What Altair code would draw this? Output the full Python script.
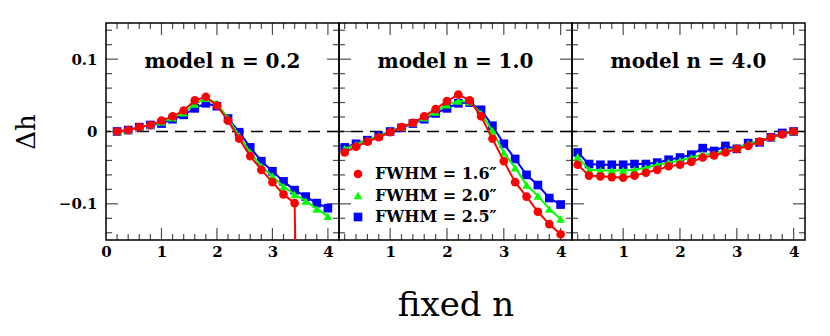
import altair as alt
import pandas as pd

# ---------------- data ----------------
n_grid = [0.2, 0.4, 0.6, 0.8, 1.0, 1.2, 1.4, 1.6, 1.8, 2.0,
          2.2, 2.4, 2.6, 2.8, 3.0, 3.2, 3.4, 3.6, 3.8, 4.0]

models = ["model n = 0.2", "model n = 1.0", "model n = 4.0"]
series = ["FWHM = 1.6\u2033", "FWHM = 2.0\u2033", "FWHM = 2.5\u2033"]
colors = ["#ff0000", "#00ff00", "#0000ff"]
shapes = ["circle", "triangle-up", "square"]

# model n = 0.2 (red curve dives off the bottom after n = 3.4)
red_02 = [0.000, 0.002, 0.006, 0.009, 0.015, 0.021, 0.029, 0.043, 0.048, 0.036,
          0.015, -0.010, -0.034, -0.053, -0.070, -0.087, -0.099, -1.000]
green_02 = [0.000, 0.002, 0.006, 0.009, 0.013, 0.019, 0.026, 0.038, 0.046, 0.039,
            0.018, -0.006, -0.029, -0.048, -0.062, -0.076, -0.087, -0.096, -0.107, -0.117]
blue_02 = [0.000, 0.002, 0.006, 0.009, 0.011, 0.017, 0.023, 0.032, 0.039, 0.035,
           0.018, -0.001, -0.022, -0.041, -0.055, -0.069, -0.081, -0.090, -0.099, -0.106]

# model n = 1.0
red_10 = [-0.029, -0.021, -0.014, -0.008, -0.001, 0.006, 0.012, 0.021, 0.031, 0.042,
          0.051, 0.043, 0.021, -0.010, -0.041, -0.070, -0.090, -0.111, -0.128, -0.142]
green_10 = [-0.024, -0.018, -0.012, -0.006, 0.000, 0.006, 0.012, 0.019, 0.027, 0.037,
            0.042, 0.041, 0.025, 0.001, -0.029, -0.050, -0.074, -0.089, -0.107, -0.121]
blue_10 = [-0.022, -0.017, -0.012, -0.006, 0.000, 0.005, 0.011, 0.017, 0.025, 0.032,
           0.039, 0.040, 0.030, 0.008, -0.017, -0.038, -0.060, -0.074, -0.092, -0.101]

# model n = 4.0
red_40 = [-0.046, -0.061, -0.062, -0.063, -0.064, -0.061, -0.057, -0.053, -0.048, -0.046,
          -0.042, -0.036, -0.033, -0.029, -0.024, -0.020, -0.014, -0.008, -0.004, 0.000]
green_40 = [-0.035, -0.053, -0.054, -0.054, -0.054, -0.053, -0.050, -0.046, -0.043, -0.040,
            -0.036, -0.032, -0.031, -0.026, -0.023, -0.017, -0.013, -0.008, -0.003, 0.000]
blue_40 = [-0.029, -0.045, -0.046, -0.046, -0.046, -0.045, -0.045, -0.043, -0.039, -0.036,
           -0.032, -0.023, -0.027, -0.020, -0.024, -0.016, -0.015, -0.008, -0.002, 0.000]

x_domains = [[0.0, 4.2], [0.1, 4.2], [0.1, 4.2]]
x_label_values = [[0, 1, 2, 3, 4], [1, 2, 3, 4], [1, 2, 3, 4]]
x_tick_values = [round(0.2 * i, 1) for i in range(1, 21)]
y_tick_values = [round(-0.14 + 0.02 * i, 2) for i in range(15)]
y_label_values = [-0.1, 0.0, 0.1]
y_domain = [-0.15, 0.15]

# ---------------- style ----------------
W, H = 233, 217
SERIF = "DejaVu Serif"
MAJOR_LEN, MINOR_LEN = 24, 12   # tick mark sizes (half of each is clipped away)

y_scale = alt.Scale(domain=y_domain, nice=False, zero=False)
color_scale = alt.Scale(domain=series, range=colors)
shape_scale = alt.Scale(domain=series, range=shapes)

xt_df = pd.DataFrame({
    "v": x_tick_values,
    "len": [MAJOR_LEN if abs(v - round(v)) < 1e-6 else MINOR_LEN for v in x_tick_values],
})
yt_df = pd.DataFrame({
    "v": y_tick_values,
    "len": [MAJOR_LEN if abs(v * 10 - round(v * 10)) < 1e-6 else MINOR_LEN for v in y_tick_values],
})

legend = alt.Legend(title=None, orient="none", legendX=244, legendY=143,
                    labelFont=SERIF, labelFontSize=16, labelFontWeight="bold",
                    labelColor="black", symbolSize=75, rowPadding=5.5,
                    labelOffset=9, padding=0, symbolStrokeWidth=0, labelLimit=300)


def panel(k, red, green, blue):
    rows = []
    for name, vals in ((series[2], blue), (series[1], green), (series[0], red)):
        for n, v in zip(n_grid, vals):
            rows.append({"n": n, "dh": v, "s": name})
    df = pd.DataFrame(rows)
    xs = alt.Scale(domain=x_domains[k], nice=False, zero=False)

    def X(axis):
        return alt.X("n:Q", scale=xs, axis=axis)

    def Y(axis):
        return alt.Y("dh:Q", scale=y_scale, axis=axis)

    base = alt.Chart(df)

    x_lab = alt.Axis(orient="bottom", values=x_label_values[k], ticks=False,
                     domain=False, grid=False, labelFlush=False, format="d",
                     labelFont=SERIF, labelFontSize=15, labelFontWeight="bold",
                     labelColor="black", labelPadding=4,
                     title="fixed n" if k == 1 else None,
                     titleFont=SERIF, titleFontSize=34, titleFontWeight="normal",
                     titleColor="black", titlePadding=29)
    if k == 0:
        y_lab = alt.Axis(orient="left", values=y_label_values, ticks=False,
                         domain=False, grid=False,
                         labelExpr="datum.value == 0 ? '0' : format(datum.value, '.1f')",
                         labelFont=SERIF, labelFontSize=15, labelFontWeight="bold",
                         labelColor="black", labelPadding=9,
                         title="\u0394h", titleFont=SERIF, titleFontSize=26,
                         titleFontWeight="normal", titleColor="black", titlePadding=19)
    else:
        y_lab = None

    ax_labels = base.mark_line(opacity=0).encode(
        x=X(x_lab), y=Y(y_lab), detail="s:N")

    # inward-pointing ticks on all four sides (clipped to the plot frame)
    tick_kw = dict(color="black", thickness=1.2, clip=True)
    size_enc = alt.Size("len:Q", scale=None, legend=None)
    xt = alt.Chart(xt_df)
    yt = alt.Chart(yt_df)
    t_bottom = xt.mark_tick(orient="vertical", **tick_kw).encode(
        x=alt.X("v:Q", scale=xs, axis=None), y=alt.value(H), size=size_enc)
    t_top = xt.mark_tick(orient="vertical", **tick_kw).encode(
        x=alt.X("v:Q", scale=xs, axis=None), y=alt.value(0), size=size_enc)
    t_left = yt.mark_tick(orient="horizontal", **tick_kw).encode(
        y=alt.Y("v:Q", scale=y_scale, axis=None), x=alt.value(0), size=size_enc)
    t_right = yt.mark_tick(orient="horizontal", **tick_kw).encode(
        y=alt.Y("v:Q", scale=y_scale, axis=None), x=alt.value(W), size=size_enc)

    zero = alt.Chart(pd.DataFrame({"z": [0.0]})).mark_rule(
        color="black", strokeDash=[12, 7], strokeWidth=1.6).encode(
        y=alt.Y("z:Q", scale=y_scale, axis=None))

    layers = [ax_labels, t_bottom, t_top, t_left, t_right, zero]
    for idx in (2, 1, 0):
        name = series[idx]
        sub = base.transform_filter(alt.datum.s == name)
        line = sub.mark_line(color=colors[idx], strokeWidth=2, clip=True).encode(
            x=X(None), y=Y(None))
        pts = sub.mark_point(filled=True, size=75, opacity=1, clip=True).encode(
            x=X(None), y=Y(None),
            color=alt.Color("s:N", scale=color_scale, legend=legend),
            shape=alt.Shape("s:N", scale=shape_scale, legend=legend))
        layers += [line, pts]

    title = alt.Chart(pd.DataFrame({"t": [models[k]]})).mark_text(
        font=SERIF, fontSize=20, fontWeight="bold", color="black",
        align="center", baseline="alphabetic").encode(
        text="t:N", x=alt.value(W / 2), y=alt.value(45))
    layers.append(title)

    return alt.layer(*layers).resolve_axis(x="independent", y="independent").properties(
        width=W, height=H)


p1 = panel(0, red_02, green_02, blue_02)
p2 = panel(1, red_10, green_10, blue_10)
p3 = panel(2, red_40, green_40, blue_40)

chart = alt.hconcat(p1, p2, p3, spacing=0, bounds="flush").properties(
    padding={"left": 4, "top": 14, "right": 5, "bottom": 5},
    background="white",
).configure_view(stroke="black", strokeWidth=1.5)

chart.save("out.html", embed_options={"renderer": "svg", "actions": False})
